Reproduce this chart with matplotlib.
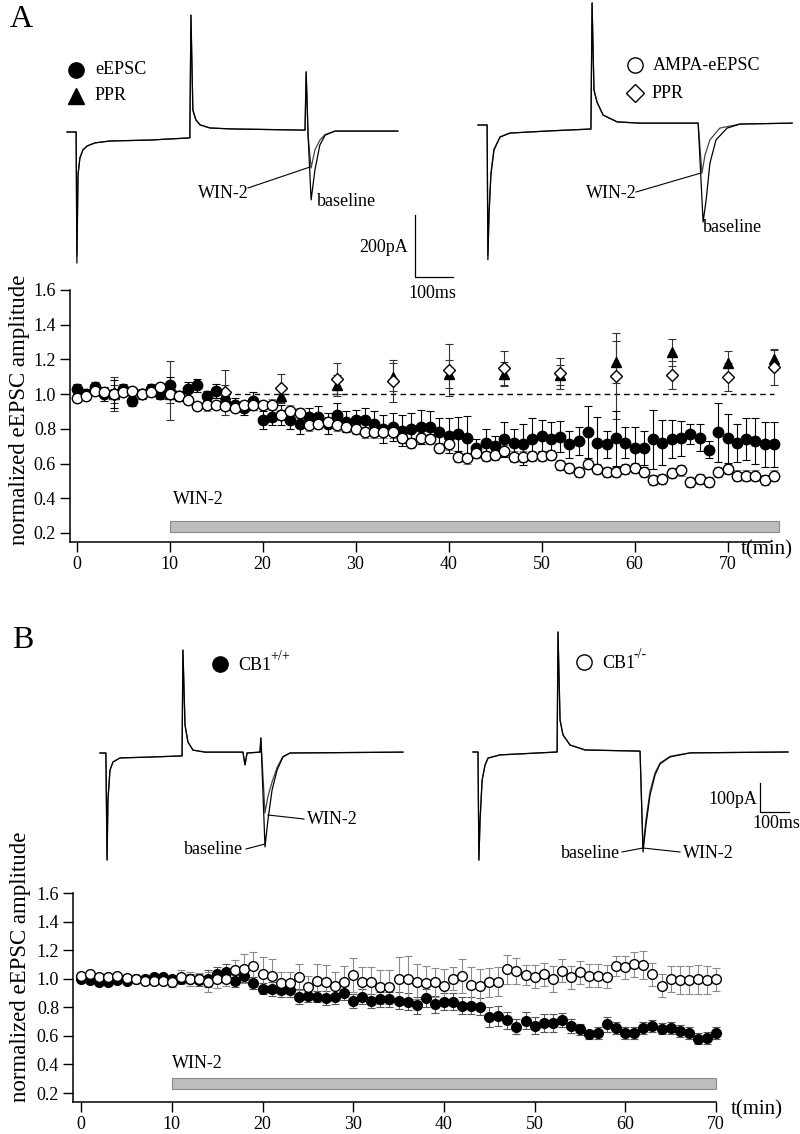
import numpy as np
import matplotlib.pyplot as plt
from matplotlib.ticker import FormatStrFormatter

plt.rcParams['font.family'] = ['Liberation Serif', 'DejaVu Serif']

W, H = 800, 1134

# ---------------- Panel A data (normalized amplitude vs time, min)
t_a = np.arange(0, 76)
eepsc_a = [1.03, 1.0, 1.04, 1.0, 1.0, 1.03, 0.96, 1.0, 1.03, 1.0,
           1.05, 0.99, 1.03, 1.05, 0.99, 1.02, 0.95, 0.94, 0.92, 0.96,
           0.85, 0.87, 0.88, 0.85, 0.83, 0.87, 0.87, 0.83, 0.88, 0.84,
           0.85, 0.85, 0.83, 0.80, 0.81, 0.79, 0.80, 0.81, 0.81, 0.78,
           0.76, 0.77, 0.745, 0.69, 0.72, 0.70, 0.74, 0.72, 0.71, 0.74,
           0.76, 0.74, 0.755, 0.71, 0.73, 0.78, 0.72, 0.71, 0.745, 0.72,
           0.69, 0.69, 0.74, 0.72, 0.74, 0.745, 0.77, 0.75, 0.68, 0.78,
           0.745, 0.72, 0.74, 0.73, 0.71, 0.71]
eepsc_a_err = [0.03, 0.03, 0.03, 0.04, 0.08, 0.03, 0.03, 0.03, 0.03, 0.03,
               0.05, 0.03, 0.04, 0.04, 0.03, 0.04, 0.04, 0.04, 0.04, 0.05,
               0.05, 0.05, 0.06, 0.05, 0.06, 0.05, 0.06, 0.06, 0.07, 0.06,
               0.06, 0.07, 0.07, 0.08, 0.08, 0.09, 0.09, 0.10, 0.09, 0.08,
               0.10, 0.10, 0.13, 0.05, 0.08, 0.06, 0.10, 0.08, 0.12, 0.12,
               0.09, 0.10, 0.09, 0.08, 0.08, 0.15, 0.15, 0.08, 0.16, 0.09,
               0.12, 0.10, 0.17, 0.13, 0.11, 0.10, 0.06, 0.08, 0.05, 0.17,
               0.14, 0.11, 0.12, 0.13, 0.13, 0.13]
ampa_a = [0.98, 0.99, 1.02, 1.01, 1.0, 1.01, 1.02, 1.0, 1.01, 1.04,
          1.0, 0.99, 0.965, 0.93, 0.935, 0.935, 0.93, 0.92, 0.94, 0.94,
          0.94, 0.94, 0.88, 0.905, 0.89, 0.82, 0.83, 0.84, 0.82, 0.81,
          0.80, 0.78, 0.78, 0.78, 0.78, 0.75, 0.72, 0.745, 0.74, 0.69,
          0.71, 0.64, 0.63, 0.66, 0.645, 0.65, 0.675, 0.64, 0.64, 0.645,
          0.645, 0.65, 0.59, 0.575, 0.55, 0.60, 0.57, 0.55, 0.55, 0.57,
          0.575, 0.55, 0.505, 0.51, 0.545, 0.56, 0.495, 0.51, 0.495, 0.55,
          0.57, 0.53, 0.53, 0.53, 0.505, 0.53]
ampa_a_err = [0.02, 0.02, 0.02, 0.02, 0.03, 0.02, 0.02, 0.02, 0.02, 0.02,
              0.02, 0.02, 0.02, 0.02, 0.03, 0.02, 0.02, 0.02, 0.02, 0.02,
              0.02, 0.03, 0.03, 0.03, 0.03, 0.03, 0.03, 0.03, 0.03, 0.03,
              0.03, 0.03, 0.03, 0.03, 0.03, 0.03, 0.03, 0.03, 0.03, 0.03,
              0.03, 0.03, 0.03, 0.03, 0.03, 0.03, 0.03, 0.03, 0.03, 0.03,
              0.03, 0.03, 0.03, 0.03, 0.03, 0.03, 0.03, 0.03, 0.03, 0.03,
              0.03, 0.03, 0.03, 0.03, 0.03, 0.03, 0.03, 0.03, 0.03, 0.03,
              0.03, 0.03, 0.03, 0.03, 0.03, 0.03]
t_ppr = [4, 10, 16, 22, 28, 34, 40, 46, 52, 58, 64, 70, 75]
ppr_eepsc = [1.0, 1.0, 1.0, 0.99, 1.05, 1.10, 1.115, 1.115, 1.11, 1.185, 1.24, 1.18, 1.20]
ppr_eepsc_err = [0.05, 0.05, 0.05, 0.04, 0.06, 0.08, 0.08, 0.07, 0.06, 0.12, 0.08, 0.07, 0.06]
ppr_ampa = [1.0, 1.02, 1.01, 1.035, 1.09, 1.075, 1.14, 1.15, 1.12, 1.105, 1.11, 1.10, 1.155]
ppr_ampa_err = [0.1, 0.17, 0.13, 0.08, 0.09, 0.12, 0.15, 0.10, 0.09, 0.25, 0.08, 0.08, 0.10]

# ---------------- Panel B data
t_b = np.arange(0, 71)
wt_b = [1.0, 0.99, 0.975, 0.975, 0.99, 0.985, 0.995, 1.0, 1.015, 1.015,
        1.0, 1.0, 1.0, 0.99, 1.0, 1.03, 1.05, 0.985, 1.02, 0.97,
        0.93, 0.93, 0.92, 0.92, 0.875, 0.88, 0.875, 0.865, 0.875, 0.90,
        0.845, 0.875, 0.845, 0.855, 0.855, 0.845, 0.84, 0.815, 0.865, 0.82,
        0.84, 0.84, 0.81, 0.81, 0.805, 0.73, 0.74, 0.71, 0.665, 0.705,
        0.67, 0.69, 0.69, 0.71, 0.67, 0.645, 0.61, 0.62, 0.68, 0.655,
        0.62, 0.62, 0.655, 0.67, 0.65, 0.655, 0.635, 0.62, 0.58, 0.585,
        0.62]
wt_b_err = [0.02, 0.02, 0.02, 0.02, 0.02, 0.02, 0.02, 0.02, 0.02, 0.02,
            0.02, 0.03, 0.03, 0.04, 0.06, 0.05, 0.05, 0.04, 0.04, 0.04,
            0.04, 0.05, 0.05, 0.05, 0.05, 0.04, 0.04, 0.05, 0.05, 0.05,
            0.05, 0.05, 0.05, 0.05, 0.05, 0.06, 0.06, 0.06, 0.06, 0.06,
            0.06, 0.06, 0.06, 0.06, 0.06, 0.07, 0.07, 0.06, 0.05, 0.06,
            0.06, 0.06, 0.06, 0.05, 0.05, 0.04, 0.03, 0.04, 0.05, 0.04,
            0.04, 0.04, 0.04, 0.04, 0.04, 0.04, 0.04, 0.04, 0.04, 0.04,
            0.04]
ko_b = [1.02, 1.03, 1.01, 1.015, 1.02, 1.005, 1.0, 0.985, 0.985, 0.985,
        0.975, 1.01, 1.0, 1.0, 0.975, 0.995, 1.0, 1.06, 1.07, 1.09,
        1.035, 1.02, 0.97, 0.97, 1.01, 0.94, 0.985, 0.975, 0.95, 0.98,
        1.025, 0.975, 0.975, 0.94, 0.94, 0.995, 1.0, 0.98, 0.97, 0.975,
        0.95, 1.0, 1.02, 0.955, 0.95, 0.975, 0.98, 1.065, 1.055, 1.025,
        1.015, 1.03, 1.0, 1.055, 1.01, 1.045, 1.02, 1.02, 1.015, 1.09,
        1.08, 1.10, 1.095, 1.03, 0.95, 1.0, 0.99, 0.99, 0.995, 0.99,
        0.995]
ko_b_err = [0.02, 0.02, 0.02, 0.02, 0.02, 0.02, 0.02, 0.02, 0.02, 0.02,
            0.03, 0.05, 0.05, 0.04, 0.07, 0.06, 0.05, 0.07, 0.10, 0.10,
            0.12, 0.12, 0.08, 0.08, 0.09, 0.08, 0.12, 0.12, 0.10, 0.11,
            0.12, 0.11, 0.11, 0.12, 0.12, 0.16, 0.16, 0.12, 0.12, 0.10,
            0.12, 0.08, 0.12, 0.13, 0.12, 0.10, 0.10, 0.10, 0.09, 0.07,
            0.08, 0.08, 0.09, 0.08, 0.08, 0.08, 0.08, 0.08, 0.08, 0.07,
            0.08, 0.09, 0.10, 0.08, 0.08, 0.09, 0.10, 0.10, 0.10, 0.10,
            0.08]

# ---------------- example current traces (ms, pA relative to holding)
trA1_t = [0, 24, 26, 29, 34, 42, 53, 74, 113, 218, 323, 326, 331, 339, 350, 376,
          429, 626, 629, 634, 642, 652, 665, 679, 705, 870]
trA1_base = [0, 0, -423, -139, -84, -58, -45, -35, -29, -26, -19, 377, 71, 39, 23, 13,
             10, 6, 194, -10, -219, -123, -42, -10, 3, 3]
trA1_win = [0, 0, -400, -135, -82, -57, -45, -35, -29, -26, -19, 377, 71, 39, 23, 13,
            10, 6, 194, -10, -116, -58, -26, -8, 3, 3]

trA2_base_t = [0, 24, 26, 29, 34, 42, 58, 84, 189, 297, 300, 305, 313, 329, 366, 426,
               579, 592, 600, 610, 626, 655, 689, 826]
trA2_base = [0, 0, -435, -290, -161, -81, -39, -26, -19, -13, 394, 113, 74, 32, 10, 6,
             6, -313, -242, -123, -48, -10, 3, 6]
trA2_win_t = [0, 24, 26, 29, 34, 42, 58, 84, 189, 297, 300, 305, 313, 329, 366, 426,
              579, 589, 597, 610, 636, 689, 826]
trA2_win = [0, 0, -420, -280, -155, -78, -38, -26, -19, -13, 394, 113, 74, 32, 10, 6,
            6, -155, -97, -48, -10, 3, 6]

trB1_t = [0, 20, 24, 27, 34, 44, 68, 170, 279, 282, 289, 299, 316, 357, 486, 493,
          500, 544, 547, 561, 571, 585, 602, 622, 646, 1030]
trB1_base = [0, 0, -369, -162, -59, -31, -17, -14, -10, 355, 97, 38, 10, 3, 3, -41,
             0, 3, 52, -324, -231, -128, -59, -14, 0, 3]
trB1_win = [0, 0, -369, -162, -59, -31, -17, -14, -10, 355, 97, 38, 10, 3, 3, -41,
            0, 3, 52, -207, -150, -100, -50, -12, 0, 3]

trB2_t = [0, 17, 20, 24, 31, 41, 51, 92, 286, 289, 296, 306, 330, 381, 568, 578,
          588, 602, 619, 636, 670, 738, 1071]
trB2_base = [0, 0, -373, -235, -97, -45, -21, -10, 0, 414, 110, 59, 24, 7, 3, -345,
             -252, -148, -79, -41, -17, -3, 0]
trB2_win = [0, 0, -373, -235, -97, -45, -21, -10, 0, 414, 110, 59, 24, 7, 3, -330,
            -235, -135, -72, -38, -15, -3, 0]

fig = plt.figure(figsize=(8, 11.34), dpi=100)


def trace_axes(px0, py0, ms_px, pa_px):
    # full-figure axes whose data units are ms / pA, origin at pixel (px0, py0)
    ax = fig.add_axes([0, 0, 1, 1])
    ax.set_xlim(-px0 * ms_px, (W - px0) * ms_px)
    ax.set_ylim((py0 - H) * pa_px, py0 * pa_px)
    ax.axis('off')
    ax.patch.set_alpha(0)
    return ax


def style_axes(ax, xmin, xmax, xspine, ymin):
    ax.set_xlim(xmin, xmax)
    ax.set_ylim(ymin, 1.6)
    ax.spines[['top', 'right']].set_visible(False)
    ax.spines[['left', 'bottom']].set_linewidth(1.1)
    ax.spines['bottom'].set_bounds(xmin, xspine)
    ax.set_yticks(np.arange(0.2, 1.61, 0.2))
    ax.yaxis.set_major_formatter(FormatStrFormatter('%.1f'))
    ax.set_xticks(range(0, 71, 10))
    ax.tick_params(direction='out', length=7, width=1, labelsize=13, pad=3)
    ax.patch.set_alpha(0)


# ---------------- Panel A plot (axes reaches x=76 so the last point is not cut)
axA = fig.add_axes([70 / W, 1 - 542 / H, 713.3 / W, 252 / H])
style_axes(axA, -0.7, 76, 74.6, 0.148)
axA.barh(0.2375, 65.5, left=10, height=0.065, color='#bdbdbd', edgecolor='#8a8a8a', lw=0.8)
axA.text(10.4, 0.39, 'WIN-2', fontsize=13, va='center')
axA.hlines(1.0, 16, 75, colors='k', linestyles=(0, (4, 3)), lw=1)
eb = dict(fmt='none', elinewidth=0.8, capsize=3, capthick=0.8)
axA.errorbar(t_ppr, ppr_ampa, yerr=ppr_ampa_err, ecolor='#333333', zorder=2, **eb)
axA.errorbar(t_ppr, ppr_eepsc, yerr=ppr_eepsc_err, ecolor='#333333', zorder=2, **eb)
axA.plot(t_ppr, ppr_eepsc, '^', ms=7, color='k', zorder=3)
axA.plot(t_ppr, ppr_ampa, 'D', ms=6, mfc='white', mec='k', mew=1, zorder=3)
axA.errorbar(t_a, ampa_a, yerr=ampa_a_err, ecolor='#808080', zorder=4, **eb)
axA.errorbar(t_a, eepsc_a, yerr=eepsc_a_err, ecolor='k', zorder=4, **eb)
axA.plot(t_a, eepsc_a, 'o', ms=7.5, color='k', zorder=5)
axA.plot(t_a, ampa_a, 'o', ms=7.5, mfc='white', mec='k', mew=1, zorder=6)
axA.text(71.4, 0.105, 't(min)', fontsize=15, va='center', clip_on=False)

# ---------------- Panel B plot (axes reaches x=71, spine stops at 70)
axB = fig.add_axes([73 / W, 1 - 1102 / H, 652 / W, 209 / H])
style_axes(axB, -0.9, 71, 70, 0.137)
axB.barh(0.2665, 60, left=10, height=0.077, color='#bdbdbd', edgecolor='#8a8a8a', lw=0.8)
axB.text(10, 0.41, 'WIN-2', fontsize=13, va='center')
axB.errorbar(t_b, wt_b, yerr=wt_b_err, ecolor='#555555', zorder=3, **eb)
axB.errorbar(t_b, ko_b, yerr=ko_b_err, ecolor='#8a8a8a', zorder=3, **eb)
axB.plot(t_b, wt_b, 'o', ms=7, color='k', zorder=5)
axB.plot(t_b, ko_b, 'o', ms=7, mfc='white', mec='k', mew=1, zorder=6)
axB.text(71.6, 0.085, 't(min)', fontsize=15, va='center', clip_on=False)

fig.text(20 / W, 1 - 410 / H, 'normalized eEPSC amplitude', rotation=90,
         fontsize=16.5, ha='center', va='center')
fig.text(21 / W, 1 - 967 / H, 'normalized eEPSC amplitude', rotation=90,
         fontsize=16.5, ha='center', va='center')

# ---------------- traces
tA1 = trace_axes(67, 132, 2.63, 3.226)
tA1.plot(trA1_t, trA1_win, color='#444444', lw=0.9)
tA1.plot(trA1_t, trA1_base, color='k', lw=0.9)
# scale bar 200 pA / 100 ms
tA1.plot([915, 915, 1015], [-268, -468, -468], color='k', lw=0.9)
tA2 = trace_axes(478, 125, 2.63, 3.226)
tA2.plot(trA2_win_t, trA2_win, color='#444444', lw=0.9)
tA2.plot(trA2_base_t, trA2_base, color='k', lw=0.9)

tB1 = trace_axes(100, 753, 3.4, 3.45)
tB1.plot(trB1_t, trB1_win, color='#444444', lw=0.9)
tB1.plot(trB1_t, trB1_base, color='k', lw=0.9)
tB2 = trace_axes(473, 752, 3.4, 3.45)
tB2.plot(trB2_t, trB2_win, color='#444444', lw=0.9)
tB2.plot(trB2_t, trB2_base, color='k', lw=0.9)
# scale bar 100 pA / 100 ms
tB2.plot([976, 976, 1076], [-107, -207, -207], color='k', lw=0.9)

# ---------------- labels, legends and leader lines (pixel layout)
ann = fig.add_axes([0, 0, 1, 1])
ann.set_xlim(0, W)
ann.set_ylim(H, 0)
ann.axis('off')
ann.patch.set_alpha(0)
fs = 13
ann.text(10, 5, 'A', fontsize=23, va='top')
ann.text(12, 626, 'B', fontsize=23, va='top')

ann.plot(76, 70, 'o', ms=11, color='k')
ann.text(95, 70, 'eEPSC', fontsize=fs, va='center')
ann.plot(76, 96, '^', ms=11, color='k')
ann.text(95, 96, 'PPR', fontsize=fs, va='center')
ann.plot(635, 65, 'o', ms=11, mfc='white', mec='k', mew=1)
ann.text(653, 65, 'AMPA-eEPSC', fontsize=fs, va='center')
ann.plot(635, 93, 'D', ms=9.5, mfc='white', mec='k', mew=1)
ann.text(652, 93, 'PPR', fontsize=fs, va='center')

ann.text(249, 193, 'WIN-2', fontsize=fs, va='center', ha='right')
ann.plot([248, 310], [188, 167], color='k', lw=0.8)
ann.text(317, 202, 'baseline', fontsize=fs, va='center')
ann.text(637, 193, 'WIN-2', fontsize=fs, va='center', ha='right')
ann.plot([636, 701], [192, 173], color='k', lw=0.8)
ann.text(703, 227, 'baseline', fontsize=fs, va='center')
ann.text(408, 247, '200pA', fontsize=fs, va='center', ha='right')
ann.text(432, 293, '100ms', fontsize=fs, va='center', ha='center')

ann.plot(220, 664, 'o', ms=11, color='k')
ann.text(238, 665, 'CB1', fontsize=fs, va='center')
ann.text(270, 657, '+/+', fontsize=10, va='center')
ann.plot(584, 662, 'o', ms=11, mfc='white', mec='k', mew=1)
ann.text(602, 663, 'CB1', fontsize=fs, va='center')
ann.text(634, 655, '-/-', fontsize=10, va='center')

ann.text(307, 820, 'WIN-2', fontsize=fs, va='center')
ann.plot([268, 304], [815, 819], color='k', lw=0.8)
ann.text(243, 850, 'baseline', fontsize=fs, va='center', ha='right')
ann.plot([246, 265], [849, 844], color='k', lw=0.8)
ann.text(620, 853, 'baseline', fontsize=fs, va='center', ha='right')
ann.plot([622, 643], [852, 848], color='k', lw=0.8)
ann.text(683, 853, 'WIN-2', fontsize=fs, va='center')
ann.plot([643, 680], [848, 852], color='k', lw=0.8)
ann.text(757, 799, '100pA', fontsize=fs, va='center', ha='right')
ann.text(752, 824, '100ms', fontsize=fs, va='center')

fig.savefig('out.png', dpi=100)
